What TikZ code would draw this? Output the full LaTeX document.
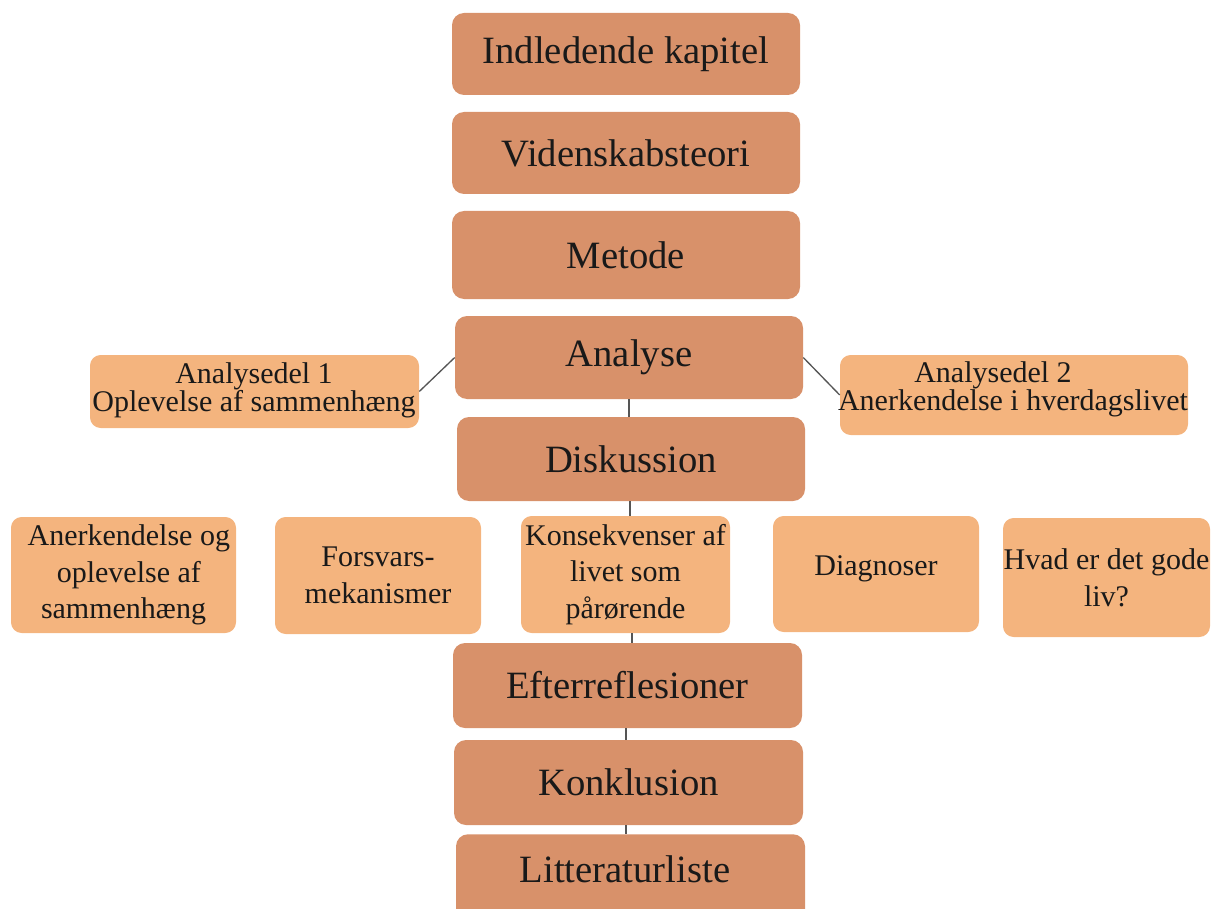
\documentclass[tikz,border=0pt]{standalone}
\usepackage{fontspec}
\setmainfont{Liberation Serif}
\definecolor{darkbox}{HTML}{D8916A}
\definecolor{lightbox}{HTML}{F4B47E}
\definecolor{conn}{HTML}{555555}
\newcommand\mybox[7]{\node[#2, minimum width={(#5-#3)*0.75pt}, minimum height={(#6-#4)*0.75pt}] (#1) at ({(#3+#5)/2},{(#4+#6)/2}) {#7};}
\tikzset{
  mainbox/.style={rounded corners=9pt, fill=darkbox, inner sep=0pt, align=center, text=black!90, font=\fontsize{29}{32}\selectfont},
  subbox/.style={rounded corners=8pt, fill=lightbox, inner sep=0pt, align=center, text=black!90, font=\fontsize{22.5}{27.5}\selectfont},
  sidebox/.style={rounded corners=8pt, fill=lightbox, inner sep=0pt},
  sidetext/.style={inner sep=0pt, align=center, text=black!90, font=\fontsize{22.5}{21}\selectfont},
  bigtext/.style={inner sep=0pt, text=black!90, font=\fontsize{29}{32}\selectfont},
  link/.style={draw=conn, line width=1pt}
}
\begin{document}
\begin{tikzpicture}[x=0.75pt, y=-0.75pt]
\useasboundingbox (0,0) rectangle (1220,909);
\mybox{ik}{mainbox}{452}{13}{800}{95}{Indledende kapitel}
\mybox{vt}{mainbox}{452}{112}{800}{194}{Videnskabsteori}
\mybox{me}{mainbox}{452}{211}{800}{299}{Metode}
\mybox{an}{mainbox}{455}{316}{803}{399}{Analyse}
\mybox{dk}{mainbox}{457}{417}{805}{501}{Diskussion}
\mybox{ef}{mainbox}{453}{643}{802}{728}{Efterreflesioner}
\mybox{kl}{mainbox}{454}{740}{803}{825}{Konklusion}
\node[mainbox, minimum width={349*0.75pt}, minimum height={100*0.75pt}, anchor=north] (lt) at (630.5,834) {};
\node[bigtext] (ltt) at (625,869) {Litteraturliste};
\mybox{a1}{sidebox}{90}{355}{419}{428}{}
\node[sidetext] (a1t) at (254,390) {Analysedel 1\\Oplevelse af sammenhæng};
\mybox{a2}{sidebox}{840}{355}{1188}{435}{}
\node[sidetext] (a2t) at (1013,389) {\hspace*{-30pt}Analysedel 2\\Anerkendelse i hverdagslivet};
\mybox{b1}{subbox}{11}{517}{236}{633}{\hspace*{8pt}Anerkendelse og\\\hspace*{8pt}oplevelse af\\sammenhæng}
\mybox{b2}{subbox}{275}{517}{481}{634}{Forsvars-\\mekanismer}
\mybox{b3}{subbox}{521}{516}{730}{633}{Konsekvenser af\\livet som\\pårørende}
\mybox{b4}{subbox}{773}{516}{979}{632}{}
\node[sidetext] (b4t) at (876,569) {Diagnoser};
\mybox{b5}{subbox}{1003}{518}{1210}{637}{Hvad er det gode\\liv?}
\draw[link] (an.west) -- (a1.east);
\draw[link] (an.east) -- (a2.west);
\draw[link] (an.south -| 629,0) -- (dk.north -| 629,0);
\draw[link] (dk.south -| 630,0) -- (b3.north -| 630,0);
\draw[link] (b3.south -| 632,0) -- (ef.north -| 632,0);
\draw[link] (ef.south -| 626,0) -- (kl.north -| 626,0);
\draw[link] (kl.south -| 626,0) -- (lt.north -| 626,0);
\end{tikzpicture}
\end{document}
